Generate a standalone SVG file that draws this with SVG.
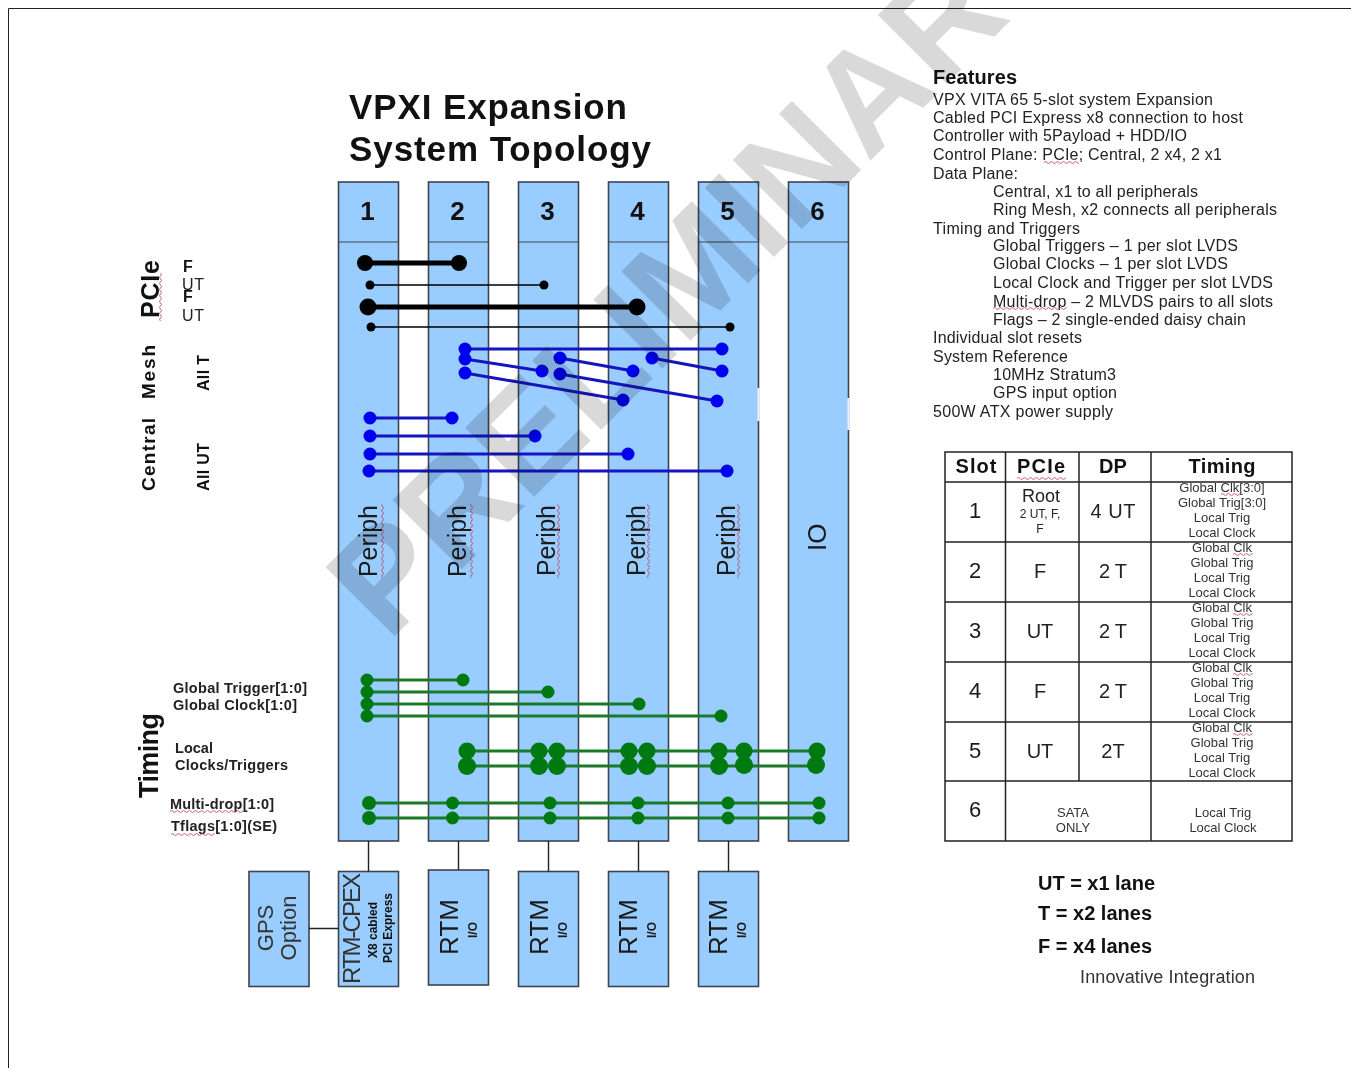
<svg xmlns="http://www.w3.org/2000/svg" width="1351" height="1068" viewBox="0 0 1351 1068">
<style>
text{font-family:"Liberation Sans",Arial,sans-serif;fill:#1a1a1a}
.b{font-weight:bold;fill:#111}
.m{text-anchor:middle}
.box{fill:#99ccff;stroke:#3c4450;stroke-width:1.6}
.hd{stroke:#3c4450;stroke-width:1.2;fill:none}
.num{font-size:26px;font-weight:bold;text-anchor:middle;fill:#111}
.per{font-size:25px}
.rtm{font-size:26px}
.io{font-size:12px;font-weight:bold}
.f{font-size:16px;fill:#222}
.t{font-size:13px;text-anchor:middle;fill:#333}
.s{font-size:22px;text-anchor:middle}
.c{font-size:20px;text-anchor:middle;fill:#222}
.l{font-size:14.5px;font-weight:bold;fill:#222}
.k{stroke:#000;fill:none}
.bl{stroke:#1414c0;stroke-width:3;fill:none}
.gr{stroke:#1a7a28;stroke-width:3.2;fill:none}
.dk{fill:#000}.db{fill:#0000f0}.dg{fill:#007a10}
.tl{stroke:#222;stroke-width:1.5;fill:none}
.lk{stroke:#222;stroke-width:1.4;fill:none}
.wm{font-size:142px;font-weight:bold;fill:#d9d9d9;mix-blend-mode:multiply}
</style>
<defs>
<pattern id="sq" patternUnits="userSpaceOnUse" width="6" height="3">
<path d="M0 1.5Q1.5 -0.8 3 1.5T6 1.5" fill="none" stroke="#c03040" stroke-width="0.8"/>
</pattern>
</defs>
<rect width="1351" height="1068" fill="#fff"/>
<path id="page-frame" d="M8.5 1068V8.5H1351" fill="none" stroke="#222" stroke-width="1"/>

<g id="title"><text class="b" x="349" y="119" font-size="35" textLength="278">VPXI Expansion</text>
<text class="b" x="349" y="161" font-size="35" textLength="302">System Topology</text></g>

<g id="slot1"><rect class="box" x="338.500" y="182" width="60" height="659"/><path class="hd" d="M338.500 242H398.500"/><text class="num" x="367.500" y="220">1</text>
<text class="per" transform="translate(377,577) rotate(-90)" textLength="72">Periph</text><rect transform="translate(381,578) rotate(-90)" width="74" height="3" fill="url(#sq)"/></g>
<g id="slot2"><rect class="box" x="428.500" y="182" width="60" height="659"/><path class="hd" d="M428.500 242H488.500"/><text class="num" x="457.500" y="220">2</text>
<text class="per" transform="translate(466,577) rotate(-90)" textLength="72">Periph</text><rect transform="translate(470,578) rotate(-90)" width="74" height="3" fill="url(#sq)"/></g>
<g id="slot3"><rect class="box" x="518.500" y="182" width="60" height="659"/><path class="hd" d="M518.500 242H578.500"/><text class="num" x="547.500" y="220">3</text>
<text class="per" transform="translate(555,576) rotate(-90)" textLength="71">Periph</text><rect transform="translate(557,578) rotate(-90)" width="74" height="3" fill="url(#sq)"/></g>
<g id="slot4"><rect class="box" x="608.500" y="182" width="60" height="659"/><path class="hd" d="M608.500 242H668.500"/><text class="num" x="637.500" y="220">4</text>
<text class="per" transform="translate(645,576) rotate(-90)" textLength="71">Periph</text><rect transform="translate(647,578) rotate(-90)" width="74" height="3" fill="url(#sq)"/></g>
<g id="slot5"><rect class="box" x="698.500" y="182" width="60" height="659"/><path class="hd" d="M698.500 242H758.500"/><text class="num" x="727.500" y="220">5</text>
<text class="per" transform="translate(735,576) rotate(-90)" textLength="71">Periph</text><rect transform="translate(737,578) rotate(-90)" width="74" height="3" fill="url(#sq)"/></g>
<g id="slot6"><rect class="box" x="788.500" y="182" width="60" height="659"/><path class="hd" d="M788.500 242H848.500"/><text class="num" x="817.500" y="220">6</text>
<text transform="translate(826,551) rotate(-90)" font-size="26">IO</text></g>
<path d="M758.500 388V421M848.500 398V430" stroke="#e4f0fc" stroke-width="2.5" fill="none"/>

<g id="gps"><rect class="box" x="249" y="871.500" width="60" height="115"/>
<text class="m" transform="translate(273,928) rotate(-90)" font-size="22" style="fill:#333">GPS</text>
<text class="m" transform="translate(296,928) rotate(-90)" font-size="22" style="fill:#333">Option</text></g>
<g id="rtm-cpex"><rect class="box" x="338.500" y="871.500" width="60" height="115"/>
<text transform="translate(360,984) rotate(-90)" font-size="24" textLength="111" style="fill:#333">RTM-CPEX</text>
<text class="b m" transform="translate(377,930) rotate(-90)" font-size="12">X8 cabled</text>
<text class="b m" transform="translate(392,928) rotate(-90)" font-size="12">PCI Express</text></g>
<g id="rtm2"><rect class="box" x="428.500" y="870" width="60" height="115"/>
<text class="rtm m" transform="translate(458,927) rotate(-90)">RTM</text><text class="io m" transform="translate(477,930) rotate(-90)">I/O</text></g>
<g id="rtm3"><rect class="box" x="518.500" y="871.500" width="60" height="115"/>
<text class="rtm m" transform="translate(548,927) rotate(-90)">RTM</text><text class="io m" transform="translate(567,930) rotate(-90)">I/O</text></g>
<g id="rtm4"><rect class="box" x="608.500" y="871.500" width="60" height="115"/>
<text class="rtm m" transform="translate(637,927) rotate(-90)">RTM</text><text class="io m" transform="translate(656,930) rotate(-90)">I/O</text></g>
<g id="rtm5"><rect class="box" x="698.500" y="871.500" width="60" height="115"/>
<text class="rtm m" transform="translate(727,927) rotate(-90)">RTM</text><text class="io m" transform="translate(746,930) rotate(-90)">I/O</text></g>

<g id="connectors">
<path class="lk" d="M368.500 841V871.500M458.500 841V870M548.500 841V871.500M638.500 841V871.500M728.500 841V871.500M309 928.500H338.500"/>
<path class="k" stroke-width="5" d="M365 263H459M368 307H637"/>
<path class="k" stroke-width="1.5" d="M370 285H544M371 327H730"/>
<g class="dk"><circle cx="365" cy="263" r="8"/><circle cx="459" cy="263" r="8"/><circle cx="368" cy="307" r="8.500"/><circle cx="637" cy="307" r="8.500"/><circle cx="370" cy="285" r="4.500"/><circle cx="544" cy="285" r="4.500"/><circle cx="371" cy="327" r="4.500"/><circle cx="730" cy="327" r="4.500"/></g>
<path class="bl" d="M465 349H722M465 359L542 371M465 373L623 400M560 358L633 371M560 374L717 401M652 358L722 371M370 418H452M370 436H535M370 454H628M370 471H727"/>
<g class="db"><circle cx="465" cy="349" r="6.500"/><circle cx="722" cy="349" r="6.500"/><circle cx="465" cy="359" r="6.500"/><circle cx="542" cy="371" r="6.500"/><circle cx="465" cy="373" r="6.500"/><circle cx="623" cy="400" r="6.500"/><circle cx="560" cy="358" r="6.500"/><circle cx="633" cy="371" r="6.500"/><circle cx="560" cy="374" r="6.500"/><circle cx="717" cy="401" r="6.500"/><circle cx="652" cy="358" r="6.500"/><circle cx="722" cy="371" r="6.500"/>
<circle cx="370" cy="418" r="6.500"/><circle cx="452" cy="418" r="6.500"/><circle cx="370" cy="436" r="6.500"/><circle cx="535" cy="436" r="6.500"/><circle cx="370" cy="454" r="6.500"/><circle cx="628" cy="454" r="6.500"/><circle cx="369" cy="471" r="6.500"/><circle cx="727" cy="471" r="6.500"/></g>
<path class="gr" d="M367 680H463M367 692H548M367 704H639M367 716H721M467 751H817M467 766H817"/>
<path class="gr" stroke-width="4" d="M369 803H819"/><path class="gr" d="M369 818H819"/>
<g class="dg"><circle cx="367" cy="680" r="6.500"/><circle cx="463" cy="680" r="6.500"/><circle cx="367" cy="692" r="6.500"/><circle cx="548" cy="692" r="6.500"/><circle cx="367" cy="704" r="6.500"/><circle cx="639" cy="704" r="6.500"/><circle cx="367" cy="716" r="6.500"/><circle cx="721" cy="716" r="6.500"/>
<circle cx="467" cy="751" r="8.500"/><circle cx="467" cy="766" r="9"/><circle cx="539" cy="751" r="8.500"/><circle cx="539" cy="766" r="9"/><circle cx="557" cy="751" r="8.500"/><circle cx="557" cy="766" r="9"/><circle cx="629" cy="751" r="8.500"/><circle cx="629" cy="766" r="9"/><circle cx="647" cy="751" r="8.500"/><circle cx="647" cy="766" r="9"/><circle cx="719" cy="751" r="8.500"/><circle cx="719" cy="766" r="9"/><circle cx="744" cy="751" r="8.500"/><circle cx="744" cy="765" r="9"/><circle cx="817" cy="751" r="8.500"/><circle cx="816" cy="765" r="9"/>
<circle cx="369" cy="803" r="7"/><circle cx="369" cy="818" r="7"/><circle cx="452.500" cy="803" r="6.500"/><circle cx="452.500" cy="818" r="6.500"/><circle cx="550" cy="803" r="6.500"/><circle cx="550" cy="818" r="6.500"/><circle cx="638" cy="803" r="6.500"/><circle cx="638" cy="818" r="6.500"/><circle cx="728" cy="803" r="6.500"/><circle cx="728" cy="818" r="6.500"/><circle cx="819" cy="803" r="6.500"/><circle cx="819" cy="818" r="6.500"/></g>
</g>

<g id="left-labels">
<text class="b" transform="translate(159,318) rotate(-90)" font-size="25" textLength="58">PCIe</text><rect transform="translate(159,321) rotate(-90)" width="48" height="3" fill="url(#sq)"/>
<text class="b" transform="translate(155,399) rotate(-90)" font-size="19" textLength="54">Mesh</text>
<text class="b" transform="translate(155,491) rotate(-90)" font-size="19" textLength="73">Central</text>
<text class="b" transform="translate(209,391) rotate(-90)" font-size="16" textLength="36">All T</text>
<text class="b" transform="translate(209,491) rotate(-90)" font-size="16" textLength="48">All UT</text>
<text class="b" x="183" y="272" font-size="16">F</text>
<text x="182" y="290" font-size="16" textLength="22" style="fill:#222">UT</text>
<text class="b" x="183" y="302" font-size="16">F</text>
<text x="182" y="321" font-size="16" textLength="22" style="fill:#222">UT</text>
<text class="b" transform="translate(158,798) rotate(-90)" font-size="27" textLength="85">Timing</text>
<text class="l" x="173" y="693" textLength="134">Global Trigger[1:0]</text>
<text class="l" x="173" y="710" textLength="124">Global Clock[1:0]</text>
<text class="l" x="175" y="753" textLength="38">Local</text>
<text class="l" x="175" y="770" textLength="113">Clocks/Triggers</text>
<text class="l" x="170" y="809" textLength="104">Multi-drop[1:0]</text><rect transform="translate(170,810)" width="73" height="3" fill="url(#sq)"/>
<text class="l" x="171" y="831" textLength="106">Tflags[1:0](SE)</text><rect transform="translate(171,833)" width="44" height="3" fill="url(#sq)"/>
</g>

<g id="features">
<text class="b" x="933" y="84" font-size="20" textLength="84">Features</text>
<text class="f" x="933" y="105" textLength="280">VPX VITA 65 5-slot system Expansion</text>
<text class="f" x="933" y="123" textLength="310">Cabled PCI Express x8 connection to host</text>
<text class="f" x="933" y="141" textLength="254">Controller with 5Payload + HDD/IO</text>
<text class="f" x="933" y="160" textLength="289">Control Plane: PCIe; Central, 2 x4, 2 x1</text><rect transform="translate(1044,161)" width="35" height="3" fill="url(#sq)"/>
<text class="f" x="933" y="179" textLength="85">Data Plane:</text>
<text class="f" x="993" y="197" textLength="205">Central, x1 to all peripherals</text>
<text class="f" x="993" y="215" textLength="284">Ring Mesh, x2 connects all peripherals</text>
<text class="f" x="933" y="234" textLength="147">Timing and Triggers</text>
<text class="f" x="993" y="251" textLength="245">Global Triggers – 1 per slot LVDS</text>
<text class="f" x="993" y="269" textLength="235">Global Clocks – 1 per slot LVDS</text>
<text class="f" x="993" y="288" textLength="280">Local Clock and Trigger per slot LVDS</text>
<text class="f" x="993" y="307" textLength="280">Multi-drop – 2 MLVDS pairs to all slots</text><rect transform="translate(993,307)" width="74" height="3" fill="url(#sq)"/>
<text class="f" x="993" y="325" textLength="253">Flags – 2 single-ended daisy chain</text>
<text class="f" x="933" y="343" textLength="149">Individual slot resets</text>
<text class="f" x="933" y="362" textLength="135">System Reference</text>
<text class="f" x="993" y="380" textLength="123">10MHz Stratum3</text>
<text class="f" x="993" y="398" textLength="124">GPS input option</text>
<text class="f" x="933" y="417" textLength="180">500W ATX power supply</text>
</g>

<g id="slot-table">
<path class="tl" d="M945 452H1292V841H945ZM945 482H1292M945 542H1292M945 602H1292M945 662H1292M945 722H1292M945 781H1292M1005.500 452V841M1079 452V781M1151 452V841"/>
<text class="b m" x="976" y="473" font-size="20" textLength="41">Slot</text>
<text class="b m" x="1041" y="473" font-size="20" textLength="48">PCIe</text><rect transform="translate(1017,477)" width="49" height="3" fill="url(#sq)"/>
<text class="b m" x="1113" y="473" font-size="20">DP</text>
<text class="b m" x="1222" y="473" font-size="20" textLength="67">Timing</text>
<text class="s" x="975" y="518">1</text><text class="s" x="975" y="578">2</text><text class="s" x="975" y="638">3</text><text class="s" x="975" y="698">4</text><text class="s" x="975" y="758">5</text><text class="s" x="975" y="817">6</text>
<text class="m" x="1041" y="502" font-size="18" style="fill:#222">Root</text>
<text class="m" x="1040" y="518" font-size="12" style="fill:#222">2 UT, F,</text>
<text class="m" x="1040" y="533" font-size="12" style="fill:#222">F</text>
<text class="c" x="1040" y="578">F</text><text class="c" x="1040" y="638">UT</text><text class="c" x="1040" y="698">F</text><text class="c" x="1040" y="758">UT</text>
<text class="c" x="1113" y="518" textLength="45">4 UT</text><text class="c" x="1113" y="578" textLength="28">2 T</text><text class="c" x="1113" y="638" textLength="28">2 T</text><text class="c" x="1113" y="698" textLength="28">2 T</text><text class="c" x="1113" y="758">2T</text>
<text class="t" x="1222" y="492">Global Clk[3:0]</text><text class="t" x="1222" y="507">Global Trig[3:0]</text><text class="t" x="1222" y="522">Local Trig</text><text class="t" x="1222" y="537">Local Clock</text><rect transform="translate(1221,493)" width="19" height="3" fill="url(#sq)"/>
<text class="t" x="1222" y="552">Global Clk</text><text class="t" x="1222" y="567">Global Trig</text><text class="t" x="1222" y="582">Local Trig</text><text class="t" x="1222" y="597">Local Clock</text><rect transform="translate(1233,553)" width="20" height="3" fill="url(#sq)"/>
<text class="t" x="1222" y="612">Global Clk</text><text class="t" x="1222" y="627">Global Trig</text><text class="t" x="1222" y="642">Local Trig</text><text class="t" x="1222" y="657">Local Clock</text><rect transform="translate(1233,613)" width="20" height="3" fill="url(#sq)"/>
<text class="t" x="1222" y="672">Global Clk</text><text class="t" x="1222" y="687">Global Trig</text><text class="t" x="1222" y="702">Local Trig</text><text class="t" x="1222" y="717">Local Clock</text><rect transform="translate(1233,673)" width="20" height="3" fill="url(#sq)"/>
<text class="t" x="1222" y="732">Global Clk</text><text class="t" x="1222" y="747">Global Trig</text><text class="t" x="1222" y="762">Local Trig</text><text class="t" x="1222" y="777">Local Clock</text><rect transform="translate(1233,733)" width="20" height="3" fill="url(#sq)"/>
<text class="t" x="1073" y="817">SATA</text><text class="t" x="1073" y="832">ONLY</text>
<text class="t" x="1223" y="817">Local Trig</text><text class="t" x="1223" y="832">Local Clock</text>
</g>

<g id="legend">
<text class="b" x="1038" y="890" font-size="20" textLength="117">UT = x1 lane</text>
<text class="b" x="1038" y="920" font-size="20" textLength="114">T = x2 lanes</text>
<text class="b" x="1038" y="953" font-size="20" textLength="114">F = x4 lanes</text>
<text x="1080" y="983" font-size="18" textLength="175" style="fill:#333">Innovative Integration</text>
</g>

<text id="watermark" class="wm" transform="translate(388,643) rotate(-45)">PRELIMINARY</text>
</svg>
